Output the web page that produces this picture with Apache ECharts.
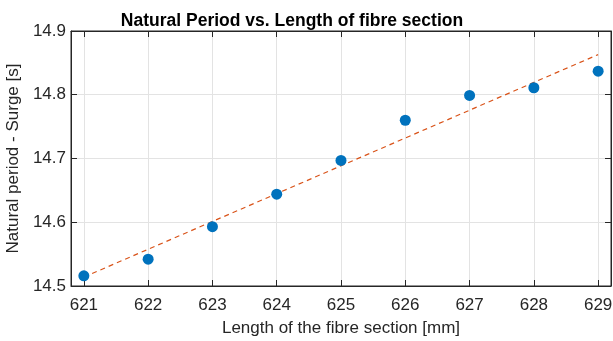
<!DOCTYPE html>
<html><head><meta charset="utf-8">
<script src="https://cdn.jsdelivr.net/npm/echarts@6/dist/echarts.min.js"></script>
<style>html,body{margin:0;padding:0;background:#fff}#c{width:613px;height:341px}</style>
</head><body><div id="c"></div>
<script>
const lengths = [621, 622, 623, 624, 625, 626, 627, 628, 629];
const periods = [14.516, 14.542, 14.593, 14.644, 14.697, 14.760, 14.799, 14.811, 14.837];
const fitX = [621, 629];
const fitY = [14.514, 14.863];
const xTicks = [621, 622, 623, 624, 625, 626, 627, 628, 629];
const yTicks = [14.5, 14.6, 14.7, 14.8, 14.9];

const font = 'Liberation Sans, Arial, sans-serif';
const dark = '#262626';
const chart = echarts.init(document.getElementById('c'), null, {renderer: 'canvas'});
function xAx(pos, extra) {
  return Object.assign({
    type: 'value', min: 620.8, max: 629.2, position: pos, gridIndex: 0,
    axisLine: {show: true, onZero: false, lineStyle: {color: dark, width: 1}},
    axisTick: {show: true, inside: true, length: 6, customValues: xTicks, lineStyle: {color: dark}},
    axisLabel: {show: false},
    splitLine: {show: false}
  }, extra || {});
}
function yAx(pos, extra) {
  return Object.assign({
    type: 'value', min: 14.5, max: 14.9, interval: 0.1, position: pos, gridIndex: 0,
    axisLine: {show: true, onZero: false, lineStyle: {color: dark, width: 1}},
    axisTick: {show: true, inside: true, length: 6, lineStyle: {color: dark}},
    axisLabel: {show: false},
    splitLine: {show: false}
  }, extra || {});
}
chart.setOption({
  animation: false,
  title: {
    text: 'Natural Period vs. Length of fibre section',
    left: 287, top: 7, textAlign: 'center',
    textStyle: {fontFamily: font, fontSize: 17.5, fontWeight: 'bold', color: '#000'}
  },
  grid: {left: 71, right: 2, top: 31, bottom: 55, outerBoundsMode: 'none', containLabel: false,
    show: true, borderColor: dark, borderWidth: 1, backgroundColor: 'transparent'},
  xAxis: [
    xAx('bottom', {
      name: 'Length of the fibre section [mm]', nameLocation: 'middle', nameGap: 34,
      nameTextStyle: {fontFamily: font, fontSize: 17, color: dark},
      axisLabel: {show: true, customValues: xTicks, fontFamily: font, fontSize: 17, color: dark, margin: 11,
        formatter: v => String(v)}
    }),
    xAx('top')
  ],
  yAxis: [
    yAx('left', {
      name: 'Natural period - Surge [s]', nameLocation: 'middle', nameGap: 41,
      nameTextStyle: {fontFamily: font, fontSize: 17, color: dark},
      axisLabel: {show: true, fontFamily: font, fontSize: 17, color: dark, margin: 5,
        formatter: v => v.toFixed(1)}
    }),
    yAx('right')
  ],
  series: [
    {
      type: 'line', xAxisIndex: 0, yAxisIndex: 0, data: [], silent: true, z: 0,
      markLine: {
        symbol: 'none', silent: true, label: {show: false}, z: 0,
        lineStyle: {color: '#e3e3e3', width: 1, type: 'solid'},
        data: xTicks.map(v => ({xAxis: v})).concat(yTicks.slice(1, -1).map(v => ({yAxis: v})))
      }
    },
    {
      type: 'line', xAxisIndex: 0, yAxisIndex: 0, z: 3,
      data: fitX.map((x, i) => [x, fitY[i]]),
      showSymbol: false, symbol: 'none',
      lineStyle: {color: '#D95319', width: 1.2, type: [5, 4]}
    },
    {
      type: 'scatter', xAxisIndex: 0, yAxisIndex: 0, z: 4,
      data: lengths.map((x, i) => [x, periods[i]]),
      symbol: 'circle', symbolSize: 11,
      itemStyle: {color: '#0072BD', opacity: 1}
    }
  ]
});
</script></body></html>
